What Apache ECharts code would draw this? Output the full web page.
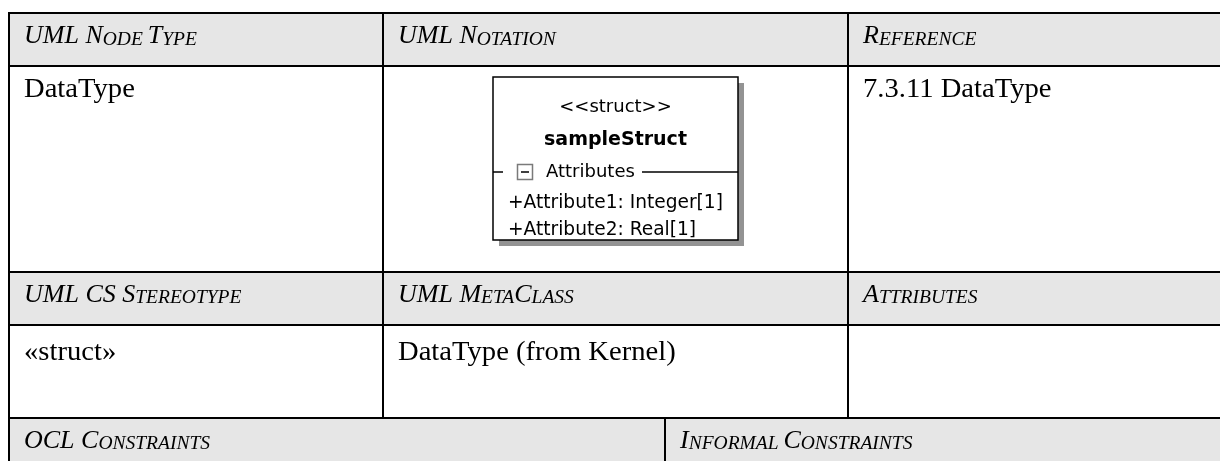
<!DOCTYPE html>
<html><head><meta charset="utf-8">
<script src="https://cdn.jsdelivr.net/npm/echarts@6/dist/echarts.min.js"></script>
<style>html,body{margin:0;padding:0;background:#fff}#c{width:1220px;height:461px}</style>
</head><body><div id="c"></div>
<script>
// ---- content ----
const headerRow1 = ['UML Node Type', 'UML Notation', 'Reference'];
const valueRow1 = ['DataType', '', '7.3.11 DataType'];
const headerRow2 = ['UML CS Stereotype', 'UML MetaClass', 'Attributes'];
const valueRow2 = ['«struct»', 'DataType (from Kernel)', ''];
const headerRow3 = ['OCL Constraints', 'Informal Constraints'];
const umlStereotype = '<<struct>>';
const umlClassName = 'sampleStruct';
const umlCompartment = 'Attributes';
const umlAttributes = ['+Attribute1: Integer[1]', '+Attribute2: Real[1]'];

// ---- layout ----
const W = 1220, H = 461;
const LEFT = 9;
const colsTop = [LEFT, 383, 848];
const colsBottom = [LEFT, 665];
const rowsY = [13, 66, 272, 325, 418];
const HEAD_FILL = '#e6e6e6';
const SERIF = '"Liberation Serif", "Times New Roman", serif';
const SANS = '"DejaVu Sans", sans-serif';
const BIG = 26, SMALL = 19.5, BODY = 27;

function smallCaps(s) {
  let out = '', cur = null, buf = '';
  for (const ch of s) {
    const isSmall = ch !== ch.toUpperCase();
    const k = ch === ' ' ? (cur || 'b') : (isSmall ? 's' : 'b');
    if (k !== cur && buf) { out += '{' + cur + '|' + buf + '}'; buf = ''; }
    cur = k; buf += isSmall ? ch.toUpperCase() : ch;
  }
  if (buf) out += '{' + cur + '|' + buf + '}';
  return out;
}

const g = [];
// header fills
[[rowsY[0], rowsY[1]], [rowsY[2], rowsY[3]], [rowsY[4], H + 5]].forEach(([a, b]) => {
  g.push({ type: 'rect', shape: { x: LEFT, y: a, width: W - LEFT + 5, height: b - a }, style: { fill: HEAD_FILL }, z: 1 });
});
// horizontal lines
rowsY.forEach(y => g.push({ type: 'line', shape: { x1: LEFT - 1, y1: y, x2: W + 5, y2: y }, style: { stroke: '#000', lineWidth: 2 }, z: 5 }));
// vertical lines
colsTop.forEach(x => g.push({ type: 'line', shape: { x1: x, y1: rowsY[0] - 1, x2: x, y2: rowsY[4] }, style: { stroke: '#000', lineWidth: 2 }, z: 5 }));
colsBottom.forEach(x => g.push({ type: 'line', shape: { x1: x, y1: rowsY[4], x2: x, y2: H + 5 }, style: { stroke: '#000', lineWidth: 2 }, z: 5 }));

function headerText(label, x, y) {
  g.push({ type: 'text', x: x, y: y, z: 10, style: {
    text: smallCaps(label), verticalAlign: 'middle', align: 'left',
    rich: {
      b: { fontFamily: SERIF, fontStyle: 'italic', fontSize: BIG, fill: '#000', verticalAlign: 'bottom', lineHeight: 30 },
      s: { fontFamily: SERIF, fontStyle: 'italic', fontSize: SMALL, fill: '#000', verticalAlign: 'bottom', lineHeight: 30 }
    } } });
}
function bodyText(label, x, y) {
  if (!label) return;
  g.push({ type: 'text', x: x, y: y, scaleX: 1.06, z: 10, style: {
    text: label, fontFamily: SERIF, fontSize: BODY, fill: '#000', verticalAlign: 'middle', align: 'left' } });
}
const PAD = 15;
headerRow1.forEach((t, i) => headerText(t, colsTop[i] + PAD, 34.5));
valueRow1.forEach((t, i) => bodyText(t, colsTop[i] + PAD, 90));
headerRow2.forEach((t, i) => headerText(t, colsTop[i] + PAD, 293));
valueRow2.forEach((t, i) => bodyText(t, colsTop[i] + PAD, 352.5));
headerRow3.forEach((t, i) => headerText(t, colsBottom[i] + PAD, 439));

// ---- UML class box ----
const bx = 493, by = 77, bw = 245, bh = 163;
g.push({ type: 'rect', shape: { x: bx + 6, y: by + 6, width: bw, height: bh }, style: { fill: '#939393' }, z: 6 });
g.push({ type: 'rect', shape: { x: bx, y: by, width: bw, height: bh }, style: { fill: '#fff', stroke: '#000', lineWidth: 1.5 }, z: 7 });
const cx = bx + bw / 2;
g.push({ type: 'text', x: cx, y: 107, z: 10, style: { text: umlStereotype, fontFamily: SANS, fontSize: 18, fill: '#000', align: 'center', verticalAlign: 'middle' } });
g.push({ type: 'text', x: cx, y: 140, z: 10, style: { text: umlClassName, fontFamily: SANS, fontWeight: 'bold', fontSize: 19, fill: '#000', align: 'center', verticalAlign: 'middle' } });
const cy = 172;
g.push({ type: 'line', shape: { x1: bx, y1: cy, x2: bx + 10, y2: cy }, style: { stroke: '#000', lineWidth: 1.5 }, z: 8 });
g.push({ type: 'line', shape: { x1: 642, y1: cy, x2: bx + bw, y2: cy }, style: { stroke: '#000', lineWidth: 1.5 }, z: 8 });
g.push({ type: 'rect', shape: { x: 517.5, y: 164.5, width: 15, height: 15 }, style: { fill: '#fff', stroke: '#7a7a7a', lineWidth: 1.5 }, z: 8 });
g.push({ type: 'line', shape: { x1: 521, y1: 172, x2: 529, y2: 172 }, style: { stroke: '#000', lineWidth: 1.5 }, z: 9 });
g.push({ type: 'text', x: 546, y: cy, z: 10, style: { text: umlCompartment, fontFamily: SANS, fontSize: 18, fill: '#000', align: 'left', verticalAlign: 'middle' } });
umlAttributes.forEach((t, i) => g.push({ type: 'text', x: 508, y: 203 + i * 27, z: 10, style: { text: t, fontFamily: SANS, fontSize: 18.6, fill: '#000', align: 'left', verticalAlign: 'middle' } }));

const chart = echarts.init(document.getElementById('c'), null, { renderer: 'canvas' });
chart.setOption({ animation: false, backgroundColor: '#fff', graphic: { elements: g } });
</script></body></html>
